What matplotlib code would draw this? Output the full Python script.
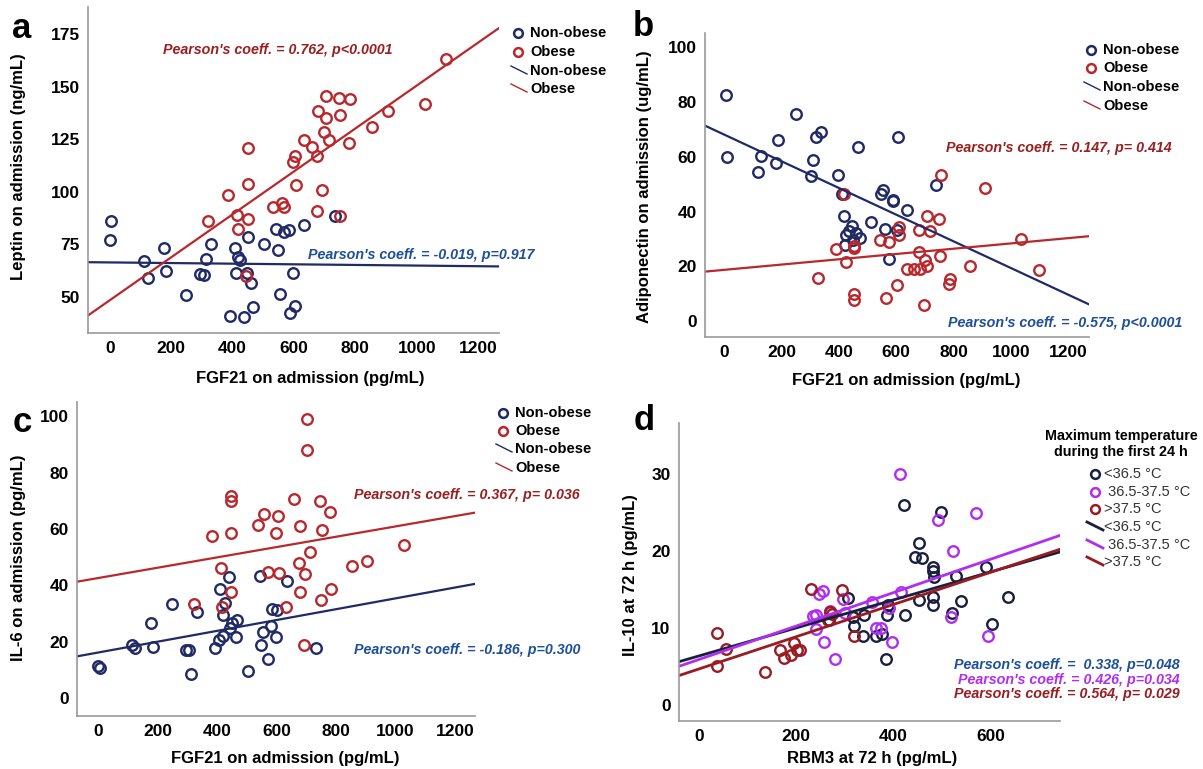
import numpy as np
import matplotlib.pyplot as plt
from matplotlib.lines import Line2D

plt.rcParams['font.family'] = ['Liberation Sans', 'DejaVu Sans']

# ---- panel a: leptin vs FGF21 ----
a_non_x = [4, 0, 178, 113, 123, 183, 247, 315, 330, 295, 307, 393, 407, 417, 425, 411,
           446, 460, 451, 437, 467, 503, 542, 547, 553, 569, 583, 586, 597, 602, 634, 734]
a_non_y = [86.2, 77, 73.3, 67, 59, 62.2, 50.8, 67.8, 75.1, 60.8, 60.2, 41, 73.5, 69, 67.5, 61.6,
           61.6, 56.4, 78.3, 40.5, 45.2, 75.1, 82.4, 72.2, 51.3, 80.7, 81.8, 42.5, 61.4, 45.6, 84.1, 88.4]
a_ob_x = [1094, 1028, 905, 854, 783, 746, 704, 679, 703, 751, 697, 713, 780, 633, 658, 675, 603,
          598, 449, 606, 692, 450, 384, 533, 561, 569, 674, 749, 320, 414, 449, 419, 445]
a_ob_y = [163.2, 142, 138.6, 130.8, 144, 144.7, 145.5, 138.6, 135, 136.4, 128.5, 124.7, 123.1, 124.7,
          121.2, 117.3, 117.3, 114, 120.7, 103.4, 101, 103.7, 98.6, 92.6, 94.6, 93, 91, 88.4, 86.2,
          88.9, 87.2, 82.2, 59.7]
a_fit_non = (66.4, -0.0015)   # intercept, slope
a_fit_ob = (48.4, 0.1022)

# ---- panel b: adiponectin vs FGF21 ----
b_non_x = [5, 9, 252, 338, 319, 189, 130, 182, 118, 311, 303, 398, 468, 606, 737, 552, 547, 587,
           590, 409, 638, 417, 511, 445, 458, 425, 436, 473, 450, 422, 559, 603, 575]
b_non_y = [82.3, 59.8, 75.6, 69.1, 67.1, 65.9, 60.1, 57.6, 54.3, 58.6, 53, 53.2, 63.5, 67.3, 49.5,
           47.8, 46.2, 44.2, 43.9, 46.3, 40.6, 38.5, 36.1, 34.9, 32.2, 31.6, 32.9, 30.4, 29.8, 27.9,
           33.5, 33.4, 22.8]
b_ob_x = [756, 909, 416, 708, 749, 610, 611, 678, 716, 542, 575, 1034, 389, 452, 452, 680, 701, 753,
          424, 638, 662, 684, 708, 858, 1098, 326, 787, 784, 603, 454, 454, 564, 696]
b_ob_y = [53.2, 48.6, 46.4, 38.2, 37.3, 34.5, 31.6, 33.4, 32.8, 29.8, 29, 30.1, 26.2, 27.6, 26.7,
          25.2, 22.2, 23.7, 21.5, 19.2, 19.1, 19.1, 20, 20.3, 18.6, 15.9, 15.4, 13.5, 13.1, 10, 7.7,
          8.6, 6]
b_fit_non = (68.0, -0.0486)
b_fit_ob = (18.75, 0.00963)

# ---- panel c: IL-6 vs FGF21 ----
c_non_x = [0, 5, 113, 124, 184, 178, 249, 296, 305, 313, 331, 393, 411, 439, 428, 419, 450, 468,
           442, 420, 407, 463, 505, 544, 634, 585, 602, 581, 555, 548, 572, 597, 733]
c_non_y = [11.5, 10.6, 18.7, 17.7, 18.2, 26.6, 33.4, 17, 17, 8.5, 30.6, 17.7, 38.7, 42.9, 33.6,
           29.5, 26.8, 27.7, 25, 22.2, 20.5, 21.6, 9.7, 43.3, 41.7, 31.6, 31.3, 25.7, 23.5, 18.7,
           13.8, 21.6, 17.7]
c_ob_x = [702, 702, 448, 448, 657, 745, 559, 604, 780, 383, 448, 537, 598, 679, 751, 1028, 713,
          903, 854, 674, 412, 571, 607, 697, 447, 678, 782, 750, 321, 418, 633, 691]
c_ob_y = [98.9, 88, 71.8, 69.9, 70.6, 69.9, 65.4, 64.6, 65.9, 57.6, 58.6, 61.4, 58.6, 60.9, 59.7,
          54.2, 51.8, 48.5, 46.8, 48, 46.3, 44.6, 44.5, 44.2, 37.5, 37.5, 38.8, 34.7, 33.5, 32.2,
          32.2, 18.9]
c_fit_non = (16.2, 0.0192)
c_fit_ob = (42.6, 0.0183)

# ---- panel d: IL-10 vs RBM3 by max temperature ----
d_low_x = [422, 498, 452, 444, 458, 482, 482, 484, 529, 591, 636, 482, 452, 538, 482, 521, 603,
           306, 389, 386, 340, 316, 319, 423, 338, 365, 376, 384, 267]
d_low_y = [26, 25.1, 21, 19.2, 19.1, 17.9, 17.4, 16.6, 16.7, 17.9, 14, 14, 13.6, 13.5, 12.9, 11.9,
           10.5, 13.9, 13, 11.7, 11.7, 11.4, 10.3, 11.7, 9, 9, 9.2, 6, 11]
d_mid_x = [414, 492, 570, 523, 415, 356, 296, 256, 247, 269, 300, 240, 234, 241, 390, 364, 374,
           519, 257, 396, 280, 594]
d_mid_y = [30, 24, 24.9, 20, 14.6, 13.4, 13.8, 14.8, 14.4, 12.2, 11.9, 11.7, 11.6, 9.9, 12.6, 10,
           10, 11.4, 8.1, 8.1, 6, 9]
d_high_x = [230, 295, 270, 274, 266, 319, 38, 55, 38, 135, 167, 174, 195, 189, 202, 207]
d_high_y = [15.1, 14.9, 12.1, 11.8, 11, 8.9, 9.3, 7.3, 5.1, 4.3, 7.1, 6.1, 8, 6.5, 7.1, 7.1]
d_fit_low = (6.35, 0.01819)
d_fit_mid = (5.89, 0.0217)
d_fit_high = (4.66, 0.02093)

NAVY = '#1f2a66'
RED = '#b8282c'
BLUE_TXT = '#1d4f9a'
RED_TXT = '#9a1f1f'
D_NAVY = '#19203f'
D_PURPLE = '#b02ef0'
D_RED = '#981c22'

W, H = 1203, 769
fig = plt.figure(figsize=(W / 100, H / 100), dpi=100)


def px(x, y):
    return x / W, 1 - y / H


def make_axes(l, t, r, b):
    ax = fig.add_axes([l / W, 1 - b / H, (r - l) / W, (b - t) / H])
    for s in ['top', 'right']:
        ax.spines[s].set_visible(False)
    for s in ['left', 'bottom']:
        ax.spines[s].set_color('#9a9a9a')
        ax.spines[s].set_linewidth(1.2)
    ax.tick_params(length=0, labelsize=12.5, pad=6)
    return ax


def scatter(ax, x, y, color, ms=7.6):
    ax.plot(x, y, 'o', ms=ms, mfc='none', mec=color, mew=1.7, ls='none')


def fitline(ax, fit, color, lw=1.6):
    xl = np.array(ax.get_xlim())
    ax.plot(xl, fit[0] + fit[1] * xl, color=color, lw=lw)


def labels(ax, xlabel, xl_pos, ylabel, yl_pos):
    ax.set_xlabel(xlabel, fontsize=12, fontweight='bold', va='center', ha='center')
    ax.set_ylabel(ylabel, fontsize=12, fontweight='bold', va='center', ha='center')
    ax.xaxis.set_label_coords(*px(*xl_pos), transform=fig.transFigure)
    ax.yaxis.set_label_coords(*px(*yl_pos), transform=fig.transFigure)
    for lab in ax.get_xticklabels() + ax.get_yticklabels():
        lab.set_fontweight('bold')


def pearson(x, y, txt, col, ha='left'):
    fig.text(*px(x, y), txt, color=col, fontsize=10.3, fontweight='bold', style='italic',
             va='center', ha=ha)


def legend_ob(x, ys, c1, c2):
    names = ['Non-obese', 'Obese', 'Non-obese', 'Obese']
    cols = [c1, c2, c1, c2]
    for i, (nm, col, yy) in enumerate(zip(names, cols, ys)):
        if i < 2:
            fig.add_artist(Line2D([px(x, yy)[0]], [px(x, yy)[1]], marker='o', ms=6.3, mfc='none',
                                  mec=col, mew=1.8, transform=fig.transFigure))
        else:
            x0, y0 = px(x - 7, yy - 5)
            x1, y1 = px(x + 9, yy + 3)
            fig.add_artist(Line2D([x0, x1], [y0, y1], color=col, lw=1.0, transform=fig.transFigure))
        fig.text(*px(x + 12, yy), nm, fontsize=10.5, fontweight='bold', va='center', ha='left')


# panel a
ax = make_axes(88, 7, 499, 333)
ax.set_xlim(-71, 1268)
ax.set_ylim(32.8, 188)
ax.set_xticks([0, 200, 400, 600, 800, 1000, 1200])
ax.set_yticks([50, 75, 100, 125, 150, 175])
scatter(ax, a_non_x, a_non_y, NAVY)
scatter(ax, a_ob_x, a_ob_y, RED)
fitline(ax, a_fit_non, NAVY)
fitline(ax, a_fit_ob, RED)
labels(ax, 'FGF21 on admission (pg/mL)', (310, 379), 'Leptin on admission (ng/mL)', (19, 167))
pearson(163, 50, "Pearson's coeff. = 0.762, p<0.0001", RED_TXT)
pearson(308, 255, "Pearson's coeff. = -0.019, p=0.917", BLUE_TXT)
legend_ob(518, [33, 52, 71, 89], NAVY, RED)
fig.text(*px(22, 29), 'a', fontsize=25, fontweight='bold', va='center', ha='center')

# panel b
ax = make_axes(705, 33, 1089, 337)
ax.set_xlim(-67, 1272)
ax.set_ylim(-5.7, 105)
ax.set_xticks([0, 200, 400, 600, 800, 1000, 1200])
ax.set_yticks([0, 20, 40, 60, 80, 100])
scatter(ax, b_non_x, b_non_y, NAVY)
scatter(ax, b_ob_x, b_ob_y, RED)
fitline(ax, b_fit_non, NAVY)
fitline(ax, b_fit_ob, RED)
labels(ax, 'FGF21 on admission (pg/mL)', (906, 381), 'Adiponectin on admission (ug/mL)', (644, 187))
pearson(946, 148, "Pearson's coeff. = 0.147, p= 0.414", RED_TXT)
pearson(948, 323, "Pearson's coeff. = -0.575, p<0.0001", BLUE_TXT)
legend_ob(1091, [50, 68, 87, 106], NAVY, RED)
fig.text(*px(643, 27), 'b', fontsize=25, fontweight='bold', va='center', ha='center')

# panel c
ax = make_axes(77, 402, 475, 716)
ax.set_xlim(-71, 1267)
ax.set_ylim(-6.3, 105)
ax.set_xticks([0, 200, 400, 600, 800, 1000, 1200])
ax.set_yticks([0, 20, 40, 60, 80, 100])
scatter(ax, c_non_x, c_non_y, NAVY)
scatter(ax, c_ob_x, c_ob_y, RED)
fitline(ax, c_fit_non, NAVY)
fitline(ax, c_fit_ob, RED)
labels(ax, 'FGF21 on admission (pg/mL)', (285, 758), 'IL-6 on admission (pg/mL)', (19, 558))
pearson(354, 495, "Pearson's coeff. = 0.367, p= 0.036", RED_TXT)
pearson(354, 650, "Pearson's coeff. = -0.186, p=0.300", BLUE_TXT)
legend_ob(503, [413, 431, 449, 468], NAVY, RED)
fig.text(*px(22, 422), 'c', fontsize=25, fontweight='bold', va='center', ha='center')

# panel d
ax = make_axes(679, 423, 1060, 721)
ax.set_xlim(-41, 742.5)
ax.set_ylim(-2.1, 36.6)
ax.set_xticks([0, 200, 400, 600])
ax.set_yticks([0, 10, 20, 30])
scatter(ax, d_low_x, d_low_y, D_NAVY)
scatter(ax, d_mid_x, d_mid_y, D_PURPLE)
scatter(ax, d_high_x, d_high_y, D_RED)
fitline(ax, d_fit_low, D_NAVY, 2.0)
fitline(ax, d_fit_mid, D_PURPLE, 2.0)
fitline(ax, d_fit_high, D_RED, 2.0)
labels(ax, 'RBM3 at 72 h (pg/mL)', (872, 759), 'IL-10 at 72 h (pg/mL)', (631, 575))
pearson(1180, 665, "Pearson's coeff. =  0.338, p=0.048", BLUE_TXT, 'right')
pearson(1180, 680, "Pearson's coeff. = 0.426, p=0.034", D_PURPLE, 'right')
pearson(1180, 694, "Pearson's coeff. = 0.564, p= 0.029", D_RED, 'right')
fig.text(*px(1121, 444), 'Maximum temperature\nduring the first 24 h', fontsize=10.3,
         fontweight='bold', ha='center', va='center', linespacing=1.2)
d_names = ['<36.5 \u00b0C', ' 36.5-37.5 \u00b0C', '>37.5 \u00b0C']
d_cols = [D_NAVY, D_PURPLE, D_RED]
for i, yy in enumerate([474, 492, 509]):
    fig.add_artist(Line2D([px(1095, yy)[0]], [px(1095, yy)[1]], marker='o', ms=6.3, mfc='none',
                          mec=d_cols[i], mew=1.8, transform=fig.transFigure))
    fig.text(*px(1104, yy), d_names[i], fontsize=10.5, color='#333333', va='center')
for i, yy in enumerate([527, 545, 562]):
    x0, y0 = px(1087, yy - 5)
    x1, y1 = px(1103, yy + 3)
    fig.add_artist(Line2D([x0, x1], [y0, y1], color=d_cols[i], lw=2.0, transform=fig.transFigure))
    fig.text(*px(1104, yy), d_names[i], fontsize=10.5, color='#333333', va='center')
fig.text(*px(644, 420), 'd', fontsize=25, fontweight='bold', va='center', ha='center')

fig.savefig('out.png', dpi=100)
